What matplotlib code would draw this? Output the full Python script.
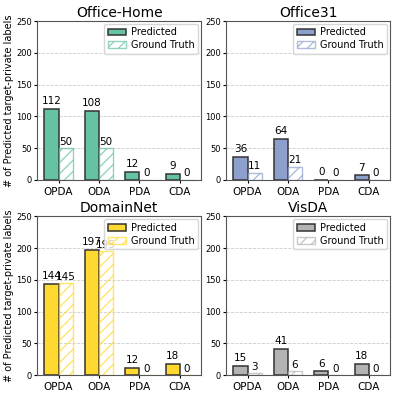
import numpy as np
import matplotlib
matplotlib.use("Agg")
import matplotlib.pyplot as plt

categories = ["OPDA", "ODA", "PDA", "CDA"]
titles = ["Office-Home", "Office31", "DomainNet", "VisDA"]
predicted = {
    "Office-Home": [112, 108, 12, 9],
    "Office31": [36, 64, 0, 7],
    "DomainNet": [144, 197, 12, 18],
    "VisDA": [15, 41, 6, 18],
}
ground_truth = {
    "Office-Home": [50, 50, 0, 0],
    "Office31": [11, 21, 0, 0],
    "DomainNet": [145, 195, 0, 0],
    "VisDA": [3, 6, 0, 0],
}
colors = {
    "Office-Home": "#66c2a5",
    "Office31": "#8da0cb",
    "DomainNet": "#ffd92f",
    "VisDA": "#b3b3b3",
}

fig, axes = plt.subplots(2, 2, figsize=(3.97, 3.97), dpi=100)
plt.subplots_adjust(left=0.093, right=0.983, top=0.947, bottom=0.055, wspace=0.15, hspace=0.23)

x = np.arange(len(categories))
w = 0.35
for ax, name in zip(axes.flat, titles):
    c = colors[name]
    b1 = ax.bar(x - w / 2, predicted[name], w, color=c, edgecolor="#333333",
                linewidth=1.1, label="Predicted", zorder=3)
    b2 = ax.bar(x + w / 2, ground_truth[name], w, facecolor="none", edgecolor=c,
                hatch="///", linewidth=1.0, alpha=0.7, label="Ground Truth", zorder=3)
    ax.bar_label(b1, padding=2, fontsize=7.5)
    ax.bar_label(b2, padding=1, fontsize=7.5)
    ax.set_ylim(0, 250)
    ax.set_yticks([0, 50, 100, 150, 200, 250])
    ax.tick_params(axis="y", labelsize=6, length=2, pad=1.5)
    ax.tick_params(axis="x", labelsize=7.5, length=2, pad=3)
    ax.set_xticks(x)
    ax.set_xticklabels(categories)
    ax.grid(axis="y", linestyle="--", color="#cccccc", linewidth=0.6, zorder=0)
    ax.set_title(name, fontsize=10, pad=3)
    for s in ax.spines.values():
        s.set_color("#555555")
    ax.legend(loc="upper right", fontsize=7, handlelength=1.9, borderpad=0.35,
              labelspacing=0.3, handletextpad=0.5, borderaxespad=0.3)

for ax in axes[:, 0]:
    ax.set_ylabel("# of Predicted target-private labels", fontsize=7, labelpad=2)

fig.savefig("out.png", dpi=100)
